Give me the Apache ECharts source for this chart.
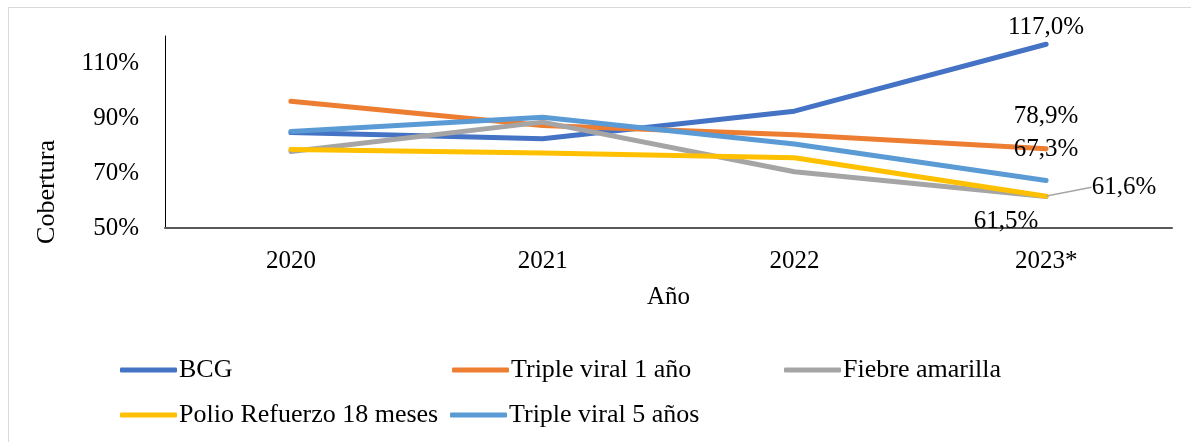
<!DOCTYPE html>
<html>
<head>
<meta charset="utf-8">
<script src="https://cdn.jsdelivr.net/npm/echarts@6/dist/echarts.min.js"></script>
<style>
    html, body { margin: 0; padding: 0; background: #fff; }
    #chart {
        position: absolute;
        left: 0; top: 0;
        width: 1191px; height: 442px;
    }
    #frame {
        position: absolute;
        left: 8px; top: 7px; right: 0; bottom: 0;
        border-left: 1px solid #d9d9d9;
        border-top: 1px solid #d9d9d9;
    }
</style>
</head>
<body>
<div id="frame"></div>
<div id="chart"></div>
<script>
    // datos
    const years = ['2020', '2021', '2022', '2023*'];
    const bcg = [84.8, 82.5, 92.6, 117.0];
    const tripleViral1 = [96.2, 87.4, 84.0, 78.9];
    const fiebreAmarilla = [77.9, 88.6, 70.5, 61.5];
    const polioRefuerzo = [78.6, 77.3, 75.6, 61.6];
    const tripleViral5 = [85.2, 90.4, 80.6, 67.3];
    const yTicks = [50, 70, 90, 110];

    const font = '"Liberation Serif", "Times New Roman", serif';
    const fmt = v => v.toFixed(1).replace('.', ',') + '%';

    // solo el último punto lleva etiqueta
    function lastLabel(values, label) {
        return values.map((v, i) => i === values.length - 1
            ? { value: v, label: Object.assign({ show: true }, label) }
            : v);
    }

    function makeSeries(name, color, data) {
        return {
            name: name,
            type: 'line',
            data: data,
            symbol: 'circle',
            symbolSize: 1,
            showAllSymbol: true,
            lineStyle: { width: 5, color: color, cap: 'round', join: 'round' },
            itemStyle: { color: color },
            label: {
                show: false, color: '#000', fontFamily: font, fontSize: 25,
                formatter: p => fmt(p.value)
            },
            emphasis: { disabled: true }
        };
    }

    const chart = echarts.init(document.getElementById('chart'));

    const legendBase = {
        icon: 'roundRect',
        itemWidth: 57,
        itemHeight: 5,
        itemGap: 0,
        textStyle: { fontFamily: font, fontSize: 26, color: '#000', padding: [0, 0, 0, -3] }
    };

    const polioSeries = makeSeries('Polio Refuerzo 18 meses', '#FFC000',
        lastLabel(polioRefuerzo, { position: 'right', distance: 5 }));
    polioSeries.labelLayout = { dx: 40, dy: -9 };
    polioSeries.labelLine = { show: true, lineStyle: { color: '#a6a6a6', width: 1.5 } };

    const option = {
        animation: false,
        backgroundColor: 'transparent',
        grid: { left: 165, right: 19, top: 36, bottom: 214 },
        legend: [
            Object.assign({ data: ['BCG'], left: 115, top: 352 }, legendBase),
            Object.assign({ data: ['Triple viral 1 año'], left: 447, top: 352 }, legendBase),
            Object.assign({ data: ['Fiebre amarilla'], left: 779, top: 352 }, legendBase),
            Object.assign({ data: ['Polio Refuerzo 18 meses'], left: 115, top: 397 }, legendBase),
            Object.assign({ data: ['Triple viral 5 años'], left: 445, top: 397 }, legendBase)
        ],
        graphic: [{
            type: 'text',
            left: 34,
            top: 140,
            rotation: Math.PI / 2,
            style: { text: 'Cobertura', font: '26px ' + font, fill: '#000' }
        }],
        xAxis: {
            type: 'category',
            data: years,
            boundaryGap: true,
            name: 'Año',
            nameLocation: 'middle',
            nameGap: 57,
            nameTextStyle: { fontFamily: font, fontSize: 25, color: '#000' },
            axisLine: { lineStyle: { color: '#595959', width: 2 } },
            axisTick: { show: false },
            axisLabel: { fontFamily: font, fontSize: 25, color: '#000', margin: 21 }
        },
        yAxis: {
            type: 'value',
            min: yTicks[0],
            max: 120,
            interval: yTicks[1] - yTicks[0],
            axisLine: { show: true, lineStyle: { color: '#000', width: 1 } },
            axisTick: { show: false },
            splitLine: { show: false },
            axisLabel: {
                fontFamily: font, fontSize: 25, color: '#000', margin: 26,
                showMaxLabel: false,
                formatter: v => yTicks.indexOf(v) >= 0 ? v + '%' : ''
            }
        },
        series: [
            makeSeries('BCG', '#4472C4', lastLabel(bcg, { position: 'top', distance: 4 })),
            makeSeries('Triple viral 1 año', '#ED7D31', lastLabel(tripleViral1, { position: 'top', distance: 19 })),
            makeSeries('Fiebre amarilla', '#A5A5A5', lastLabel(fiebreAmarilla, { position: 'bottom', distance: 12, offset: [-40, 0] })),
            polioSeries,
            makeSeries('Triple viral 5 años', '#5B9BD5', lastLabel(tripleViral5, { position: 'top', distance: 18 }))
        ]
    };

    chart.setOption(option);
</script>
</body>
</html>
